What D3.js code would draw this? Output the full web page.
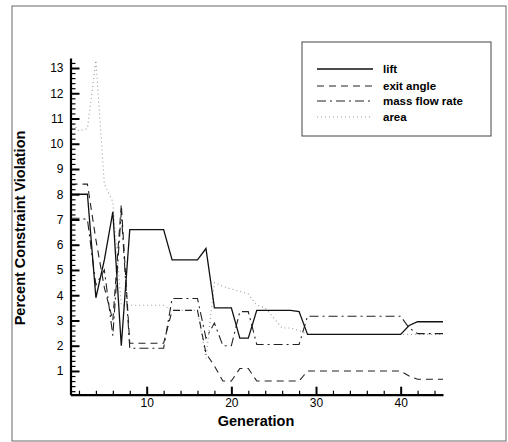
<!DOCTYPE html>
<html>
<head>
<meta charset="utf-8">
<script src="https://cdn.jsdelivr.net/npm/d3@7"></script>
<style>
  body { margin: 0; background: #fff; }
  text { font-family: "Liberation Sans", Arial, sans-serif; }
</style>
</head>
<body>
<svg id="chart" width="508" height="442"></svg>
<script>
// generations 1..45
var generations = d3.range(1, 46);

var lift = [8.0, 8.0, 8.0, 3.9, 5.4, 7.3, 2.0,
  6.6, 6.6, 6.6, 6.6, 6.6, 5.4, 5.4, 5.4, 5.4, 5.85,
  3.5, 3.5, 3.5, 2.3, 2.3, 3.4, 3.4, 3.4, 3.4, 3.4, 3.35,
  2.45, 2.45, 2.45, 2.45, 2.45, 2.45, 2.45, 2.45, 2.45, 2.45, 2.45, 2.45,
  2.8, 2.95, 2.95, 2.95, 2.95];

var exit_angle = [8.4, 8.4, 8.4, 6.2, 4.3, 3.0, 7.6,
  2.1, 2.1, 2.1, 2.1, 2.1, 3.4, 3.4, 3.4, 3.4, 1.7,
  1.2, 0.6, 0.6, 1.1, 1.1, 0.6, 0.6, 0.6, 0.6, 0.6, 0.6,
  1.0, 1.0, 1.0, 1.0, 1.0, 1.0, 1.0, 1.0, 1.0, 1.0, 1.0, 1.0,
  0.8, 0.67, 0.67, 0.67, 0.67];

var mass_flow = [7.05, 7.05, 7.0, 4.4, 5.0, 2.4, 7.3,
  1.9, 1.9, 1.9, 1.9, 1.9, 3.87, 3.87, 3.87, 3.87, 2.3,
  2.9, 2.0, 2.0, 3.35, 3.35, 2.05, 2.05, 2.05, 2.05, 2.05, 2.05,
  3.17, 3.17, 3.17, 3.17, 3.17, 3.17, 3.17, 3.17, 3.17, 3.17, 3.17, 3.17,
  2.7, 2.48, 2.48, 2.48, 2.48];

var area = [10.9, 10.5, 10.6, 13.3, 8.4, 7.7, 3.6,
  3.6, 3.6, 3.6, 3.6, 3.6, 3.4, 3.4, 3.4, 3.4, 1.5,
  4.5, 4.35, 4.25, 4.15, 4.05, 3.6, 3.5, 3.1, 2.7, 2.7, 2.6,
  2.45, 2.45, 2.45, 2.45, 2.45, 2.45, 2.45, 2.45, 2.45, 2.45, 2.45, 2.45,
  2.45, 2.45, 2.45, 2.45, 2.45];

var series_names = ["lift", "exit angle", "mass flow rate", "area"];
var x_ticks = [10, 20, 30, 40];
var y_ticks = d3.range(1, 14);

var series = [
  {name: series_names[0], values: lift, dash: null, color: "#111", width: 1.3},
  {name: series_names[1], values: exit_angle, dash: "7,5", color: "#222", width: 1.1},
  {name: series_names[2], values: mass_flow, dash: "9,4,2,4", color: "#222", width: 1.1},
  {name: series_names[3], values: area, dash: "1,3", color: "#999", width: 1.1}
];

var svg = d3.select("#chart");

// outer frame
svg.append("rect")
  .attr("x", 12).attr("y", 6)
  .attr("width", 494).attr("height", 435)
  .attr("fill", "none")
  .attr("stroke", "#666")
  .attr("stroke-width", 1);

var x = d3.scaleLinear().domain([1, 45]).range([70.5, 443]);
var y = d3.scaleLinear().domain([0.06, 13.4]).range([394.7, 57.9]);

var line = d3.line()
  .x(function(d, i){ return x(generations[i]); })
  .y(function(d){ return y(d); });

var g = svg.append("g");

// series, area drawn first so it sits underneath
series.slice().reverse().forEach(function(s){
  g.append("path")
    .datum(s.values)
    .attr("d", line)
    .attr("fill", "none")
    .attr("stroke", s.color)
    .attr("stroke-width", s.width)
    .attr("stroke-dasharray", s.dash);
});

// y axis
var y_minor = d3.range(1, 67).map(function(d){ return d * 0.2; })
  .filter(function(d){ return Math.abs(d - Math.round(d)) > 0.01; });

svg.append("g")
  .attr("transform", "translate(" + x(1) + ",0)")
  .call(d3.axisLeft(y).tickValues(y_minor).tickSize(-5).tickFormat("").tickSizeOuter(0))
  .call(function(a){ a.select(".domain").remove(); a.selectAll("line").attr("stroke", "#000").attr("stroke-width", 1.2); });

var yAxis = svg.append("g")
  .attr("transform", "translate(" + x(1) + ",0)")
  .call(d3.axisLeft(y).tickValues(y_ticks).tickSize(-9).tickPadding(7).tickSizeOuter(0));
yAxis.select(".domain").attr("stroke", "#000").attr("stroke-width", 2.2);
yAxis.selectAll("line").attr("stroke", "#000").attr("stroke-width", 2);
yAxis.selectAll("text").attr("font-size", 12).attr("fill", "#000")
  .attr("font-family", "'Liberation Sans', Arial, sans-serif");

// x axis
var x_minor = d3.range(2, 46, 2).filter(function(d){ return d % 10 != 0; });

svg.append("g")
  .attr("transform", "translate(0," + y(0.06) + ")")
  .call(d3.axisBottom(x).tickValues(x_minor).tickSize(-4).tickFormat("").tickSizeOuter(0))
  .call(function(a){ a.select(".domain").remove(); a.selectAll("line").attr("stroke", "#000").attr("stroke-width", 1.2); });

var xAxis = svg.append("g")
  .attr("transform", "translate(0," + y(0.06) + ")")
  .call(d3.axisBottom(x).tickValues(x_ticks).tickSize(-8).tickPadding(4).tickSizeOuter(0));
xAxis.select(".domain").attr("stroke", "#000").attr("stroke-width", 2.2);
xAxis.selectAll("line").attr("stroke", "#000").attr("stroke-width", 2);
xAxis.selectAll("text").attr("font-size", 12).attr("fill", "#000")
  .attr("font-family", "'Liberation Sans', Arial, sans-serif");

// axis titles
svg.append("text")
  .attr("transform", "translate(25,228)rotate(-90)")
  .attr("text-anchor", "middle")
  .attr("font-size", 14.5)
  .attr("font-weight", "bold")
  .text("Percent Constraint Violation");

svg.append("text")
  .attr("x", 256)
  .attr("y", 426)
  .attr("text-anchor", "middle")
  .attr("font-size", 14.5)
  .attr("font-weight", "bold")
  .text("Generation");

// legend
var legend = svg.append("g");
legend.append("rect")
  .attr("x", 302).attr("y", 42)
  .attr("width", 189).attr("height", 94)
  .attr("fill", "#fff")
  .attr("stroke", "#444")
  .attr("stroke-width", 1);

var legend_y = [69, 86, 101, 117];
series.forEach(function(s, i){
  legend.append("line")
    .attr("x1", 317).attr("x2", 373)
    .attr("y1", legend_y[i]).attr("y2", legend_y[i])
    .attr("stroke", s.color)
    .attr("stroke-width", s.width)
    .attr("stroke-dasharray", s.dash);
  legend.append("text")
    .attr("x", 383)
    .attr("y", legend_y[i])
    .attr("dy", "0.35em")
    .attr("font-size", 11.5)
    .attr("font-weight", "bold")
    .text(s.name);
});
</script>
</body>
</html>
